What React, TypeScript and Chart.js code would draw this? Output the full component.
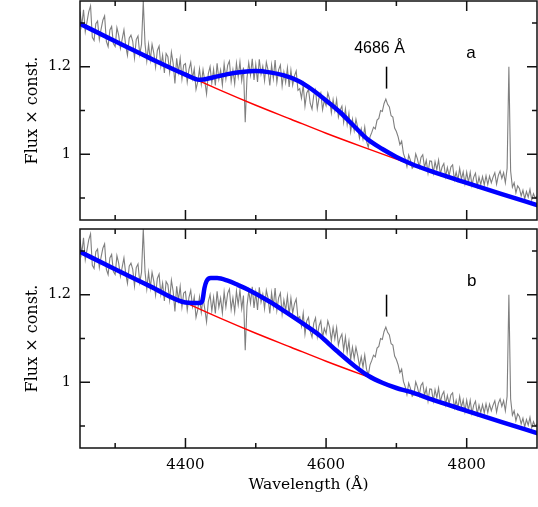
import React, { useEffect, useRef } from 'react';
import { Chart, registerables } from 'chart.js';

Chart.register(...registerables);

// ---- Data ----
const wavelengths = [
  4250, 4252.5, 4255, 4257.5, 4260, 4262.5, 4265, 4267.5, 4270, 4272.5,
  4275, 4277.5, 4280, 4282.5, 4285, 4287.5, 4290, 4292.5, 4295, 4297.5,
  4300, 4302.5, 4305, 4307.5, 4310, 4312.5, 4315, 4317.5, 4320, 4322.5,
  4325, 4327.5, 4330, 4332.5, 4335, 4337.5, 4340, 4342.5, 4345, 4347.5,
  4350, 4352.5, 4355, 4357.5, 4360, 4362.5, 4365, 4367.5, 4370, 4372.5,
  4375, 4377.5, 4380, 4382.5, 4385, 4387.5, 4390, 4392.5, 4395, 4397.5,
  4400, 4402.5, 4405, 4407.5, 4410, 4412.5, 4415, 4417.5, 4420, 4422.5,
  4425, 4427.5, 4430, 4432.5, 4435, 4437.5, 4440, 4442.5, 4445, 4447.5,
  4450, 4452.5, 4455, 4457.5, 4460, 4462.5, 4465, 4467.5, 4470, 4472.5,
  4475, 4477.5, 4480, 4482.5, 4485, 4487.5, 4490, 4492.5, 4495, 4497.5,
  4500, 4502.5, 4505, 4507.5, 4510, 4512.5, 4515, 4517.5, 4520, 4522.5,
  4525, 4527.5, 4530, 4532.5, 4535, 4537.5, 4540, 4542.5, 4545, 4547.5,
  4550, 4552.5, 4555, 4557.5, 4560, 4562.5, 4565, 4567.5, 4570, 4572.5,
  4575, 4577.5, 4580, 4582.5, 4585, 4587.5, 4590, 4592.5, 4595, 4597.5,
  4600, 4602.5, 4605, 4607.5, 4610, 4612.5, 4615, 4617.5, 4620, 4622.5,
  4625, 4627.5, 4630, 4632.5, 4635, 4637.5, 4640, 4642.5, 4645, 4647.5,
  4650, 4652.5, 4655, 4657.5, 4660, 4662.5, 4665, 4667.5, 4670, 4672.5,
  4675, 4677.5, 4680, 4682.5, 4685, 4687.5, 4690, 4692.5, 4695, 4697.5,
  4700, 4702.5, 4705, 4707.5, 4710, 4712.5, 4715, 4717.5, 4720, 4722.5,
  4725, 4727.5, 4730, 4732.5, 4735, 4737.5, 4740, 4742.5, 4745, 4747.5,
  4750, 4752.5, 4755, 4757.5, 4760, 4762.5, 4765, 4767.5, 4770, 4772.5,
  4775, 4777.5, 4780, 4782.5, 4785, 4787.5, 4790, 4792.5, 4795, 4797.5,
  4800, 4802.5, 4805, 4807.5, 4810, 4812.5, 4815, 4817.5, 4820, 4822.5,
  4825, 4827.5, 4830, 4832.5, 4835, 4837.5, 4840, 4842.5, 4845, 4847.5,
  4850, 4852.5, 4855, 4857.5, 4860, 4862.5, 4865, 4867.5, 4870, 4872.5,
  4875, 4877.5, 4880, 4882.5, 4885, 4887.5, 4890, 4892.5, 4895, 4897.5,
  4900,
];

const observedFlux = [
  1.326, 1.294, 1.330, 1.280, 1.303, 1.326, 1.339, 1.267, 1.260, 1.298,
  1.304, 1.262, 1.286, 1.306, 1.316, 1.258, 1.246, 1.284, 1.292, 1.253,
  1.246, 1.289, 1.272, 1.242, 1.263, 1.284, 1.248, 1.226, 1.265, 1.272,
  1.258, 1.220, 1.262, 1.270, 1.228, 1.251, 1.350, 1.252, 1.213, 1.251,
  1.215, 1.251, 1.231, 1.199, 1.237, 1.247, 1.201, 1.226, 1.186, 1.230,
  1.223, 1.188, 1.233, 1.208, 1.162, 1.219, 1.187, 1.219, 1.172, 1.204,
  1.207, 1.165, 1.194, 1.210, 1.173, 1.195, 1.148, 1.166, 1.195, 1.160,
  1.193, 1.167, 1.138, 1.184, 1.200, 1.163, 1.194, 1.157, 1.208, 1.171,
  1.192, 1.158, 1.206, 1.172, 1.203, 1.213, 1.166, 1.193, 1.161, 1.208,
  1.177, 1.211, 1.168, 1.198, 1.073, 1.174, 1.209, 1.181, 1.218, 1.170,
  1.205, 1.165, 1.217, 1.183, 1.201, 1.168, 1.210, 1.192, 1.157, 1.204,
  1.173, 1.215, 1.164, 1.193, 1.204, 1.156, 1.188, 1.164, 1.197, 1.154,
  1.192, 1.158, 1.179, 1.190, 1.146, 1.150, 1.128, 1.158, 1.110, 1.140,
  1.148, 1.116, 1.103, 1.135, 1.147, 1.104, 1.129, 1.140, 1.102, 1.123,
  1.111, 1.140, 1.126, 1.095, 1.125, 1.099, 1.125, 1.085, 1.101, 1.110,
  1.073, 1.104, 1.068, 1.094, 1.052, 1.080, 1.054, 1.080, 1.061, 1.037,
  1.058, 1.035, 1.062, 1.030, 1.016, 1.040, 1.050, 1.062, 1.058, 1.078,
  1.082, 1.100, 1.098, 1.116, 1.126, 1.114, 1.108, 1.088, 1.085, 1.060,
  1.052, 1.040, 1.022, 1.030, 1.002, 0.990, 0.972, 0.998, 0.986, 0.968,
  0.973, 1.001, 0.989, 0.970, 0.993, 0.999, 0.970, 0.986, 0.957, 0.985,
  0.984, 0.957, 0.983, 0.965, 0.987, 0.955, 0.971, 0.979, 0.949, 0.970,
  0.951, 0.971, 0.976, 0.942, 0.959, 0.941, 0.968, 0.943, 0.960, 0.933,
  0.959, 0.936, 0.959, 0.929, 0.948, 0.957, 0.927, 0.948, 0.931, 0.949,
  0.930, 0.951, 0.931, 0.950, 0.935, 0.948, 0.958, 0.932, 0.952, 0.962,
  0.945, 0.958, 0.935, 0.968, 1.200, 0.962, 0.925, 0.935, 0.912, 0.928,
  0.922, 0.905, 0.918, 0.898, 0.915, 0.902, 0.920, 0.896, 0.910, 0.900,
  0.905,
];

const continuumWave = [4250, 4300, 4350, 4400, 4450, 4500, 4550, 4600, 4650, 4700, 4750, 4800, 4850, 4900];
const continuumFlux = [1.298, 1.258, 1.219, 1.182, 1.146, 1.112, 1.080, 1.048, 1.018, 0.989, 0.961, 0.935, 0.909, 0.884];

const modelAWave = [4250, 4300, 4350, 4400, 4420, 4440, 4460, 4480, 4500, 4520, 4540, 4560, 4580, 4600, 4620, 4640, 4660, 4680, 4700, 4720, 4750, 4800, 4850, 4900];
const modelAFlux = [1.298, 1.258, 1.219, 1.182, 1.170, 1.176, 1.183, 1.188, 1.190, 1.187, 1.180, 1.168, 1.148, 1.123, 1.096, 1.064, 1.033, 1.012, 0.994, 0.979, 0.961, 0.935, 0.909, 0.884];

const modelBWave = [4250, 4300, 4350, 4400, 4410, 4420, 4424, 4427, 4430, 4436, 4445, 4460, 4475, 4490, 4520, 4545, 4570, 4590, 4615, 4640, 4660, 4680, 4700, 4720, 4750, 4800, 4850, 4900];
const modelBFlux = [1.298, 1.258, 1.219, 1.182, 1.181, 1.181, 1.186, 1.215, 1.231, 1.238, 1.238, 1.232, 1.222, 1.211, 1.184, 1.158, 1.131, 1.108, 1.072, 1.038, 1.015, 0.999, 0.987, 0.978, 0.961, 0.935, 0.909, 0.884];

const xMajorTicks = [4400, 4600, 4800];
const xTickLabels = ['4400', '4600', '4800'];
const xMinorTicks = [4300, 4500, 4700];
const yMajorTicks = [1, 1.2];
const yTickLabels = ['1', '1.2'];
const yMinorTicks = [0.9, 1.1, 1.3];

const markerWave = 4686;
const markerFlux = [1.15, 1.2];
const lineLabel = '4686 Å';
const lineLabelPos = [4676, 1.241];
const panelLabels = ['a', 'b'];
const panelLabelPos = [[4806, 1.23], [4807, 1.231]];

const X_MIN = 4250, X_MAX = 4900, Y_MIN = 0.85, Y_MAX = 1.35;

const pts = (xs: number[], ys: number[]) => xs.map((x, i) => ({ x, y: ys[i] }));

const framePlugin = {
  id: 'frame',
  afterDatasetsDraw(chart: any, _args: any, opts: any) {
    const { ctx, chartArea: a, scales } = chart;
    const xs = scales.x, ys = scales.y;
    ctx.save();
    ctx.strokeStyle = '#111';
    ctx.lineWidth = 1.5;
    ctx.strokeRect(a.left, a.top, a.right - a.left, a.bottom - a.top);
    ctx.beginPath();
    const xt = (vals: number[], len: number) => {
      vals.forEach((v) => {
        const p = xs.getPixelForValue(v);
        ctx.moveTo(p, a.bottom); ctx.lineTo(p, a.bottom - len);
        ctx.moveTo(p, a.top); ctx.lineTo(p, a.top + len);
      });
    };
    const yt = (vals: number[], len: number) => {
      vals.forEach((v) => {
        const p = ys.getPixelForValue(v);
        ctx.moveTo(a.left, p); ctx.lineTo(a.left + len, p);
        ctx.moveTo(a.right, p); ctx.lineTo(a.right - len, p);
      });
    };
    xt(xMajorTicks, 10); xt(xMinorTicks, 5);
    yt(yMajorTicks, 10); yt(yMinorTicks, 5);
    ctx.stroke();
    // line marker
    ctx.beginPath();
    ctx.strokeStyle = '#000';
    ctx.lineWidth = 1.5;
    const mx = xs.getPixelForValue(markerWave);
    ctx.moveTo(mx, ys.getPixelForValue(markerFlux[0]));
    ctx.lineTo(mx, ys.getPixelForValue(markerFlux[1]));
    ctx.stroke();
    ctx.fillStyle = '#000';
    ctx.textAlign = 'center';
    ctx.textBaseline = 'middle';
    ctx.font = '16px "Liberation Sans", Arial, sans-serif';
    if (opts.showLineLabel) {
      ctx.fillText(lineLabel, xs.getPixelForValue(lineLabelPos[0]), ys.getPixelForValue(lineLabelPos[1]));
    }
    const lp = panelLabelPos[opts.index];
    ctx.font = '17px "Liberation Sans", Arial, sans-serif';
    ctx.fillText(panelLabels[opts.index], xs.getPixelForValue(lp[0]), ys.getPixelForValue(lp[1]));
    ctx.restore();
  },
};

const serif = 'DejaVu Serif';

function Panel({ index, width, height, top }: { index: number; width: number; height: number; top: number }) {
  const ref = useRef<HTMLCanvasElement | null>(null);
  useEffect(() => {
    if (!ref.current) return;
    const isBottom = index === 1;
    const mw = isBottom ? modelBWave : modelAWave;
    const mf = isBottom ? modelBFlux : modelAFlux;
    const chart = new Chart(ref.current, {
      type: 'line',
      data: {
        datasets: [
          {
            data: pts(mw, mf),
            borderColor: '#0000ff',
            borderWidth: 4.5,
            pointRadius: 0,
            cubicInterpolationMode: 'monotone',
            borderCapStyle: 'round',
            borderJoinStyle: 'round',
          },
          {
            data: pts(continuumWave, continuumFlux),
            borderColor: '#ff0000',
            borderWidth: 1.4,
            pointRadius: 0,
            cubicInterpolationMode: 'monotone',
          },
          {
            data: pts(wavelengths, observedFlux),
            borderColor: '#7f7f7f',
            borderWidth: 1.1,
            pointRadius: 0,
            tension: 0,
          },
        ],
      },
      options: {
        animation: false,
        responsive: false,
        maintainAspectRatio: false,
        layout: { padding: { top: isBottom ? 3 : 1, right: 1, left: 0, bottom: 0 } },
        plugins: {
          legend: { display: false },
          tooltip: { enabled: false },
          frame: { index, showLineLabel: !isBottom },
        } as any,
        scales: {
          x: {
            type: 'linear',
            min: X_MIN,
            max: X_MAX,
            grid: { display: false, drawTicks: false },
            border: { display: false },
            ticks: {
              display: isBottom,
              autoSkip: false,
              maxRotation: 0,
              padding: 8,
              color: '#000',
              font: { family: serif, size: 15 },
              callback: (_v: any, i: number) => xTickLabels[i],
            },
            afterBuildTicks: (s: any) => { s.ticks = xMajorTicks.map((v) => ({ value: v })); },
            afterFit: (s: any) => {
              s.height = isBottom ? 59 : 6;
              s.paddingLeft = 0; s.paddingRight = 0; s.paddingTop = 0; s.paddingBottom = 0;
            },
            title: {
              display: isBottom,
              text: 'Wavelength (Å)',
              color: '#000',
              font: { family: serif, size: 15.5 },
              padding: { top: 0, bottom: 12.7 },
            },
          },
          y: {
            type: 'linear',
            min: Y_MIN,
            max: Y_MAX,
            grid: { display: false, drawTicks: false },
            border: { display: false },
            ticks: {
              autoSkip: false,
              padding: 9,
              color: '#000',
              font: { family: serif, size: 14.5 },
              callback: (_v: any, i: number) => yTickLabels[i],
            },
            afterBuildTicks: (s: any) => { s.ticks = yMajorTicks.map((v) => ({ value: v })); },
            afterFit: (s: any) => {
              s.width = 80;
              s.paddingLeft = 0; s.paddingRight = 0; s.paddingTop = 0; s.paddingBottom = 0;
            },
            title: {
              display: true,
              text: 'Flux × const.',
              color: '#000',
              font: { family: serif, size: 16 },
              padding: { top: 23.4, bottom: 0 },
            },
          },
        },
      } as any,
      plugins: [framePlugin as any],
    });
    return () => chart.destroy();
  }, [index]);
  return (
    <canvas
      ref={ref}
      width={width}
      height={height}
      style={{ position: 'absolute', left: 0, top, width, height, display: 'block' }}
    />
  );
}

export default function App() {
  return (
    <div style={{ position: 'absolute', left: 0, top: 0, width: 538, height: 507, background: '#fff' }}>
      <Panel index={0} width={538} height={226} top={0} />
      <Panel index={1} width={538} height={281} top={226} />
    </div>
  );
}
